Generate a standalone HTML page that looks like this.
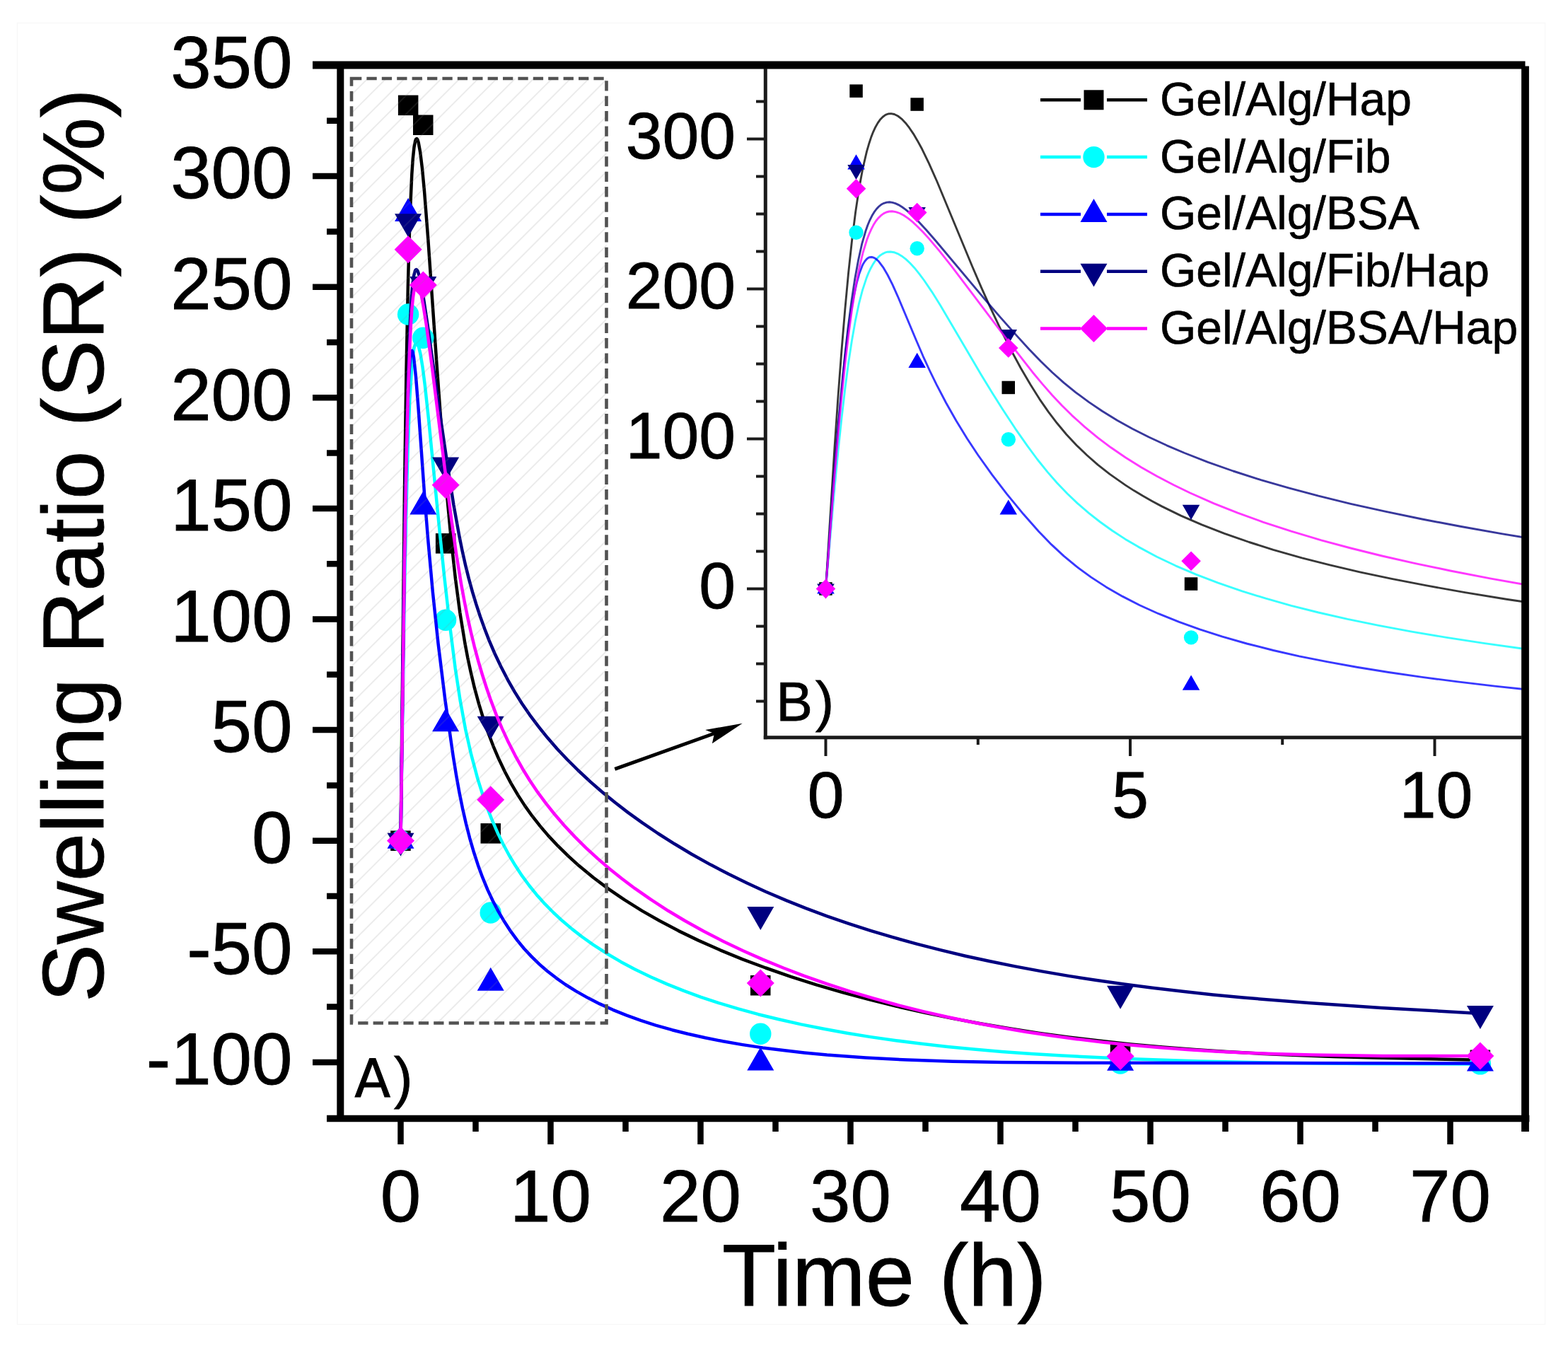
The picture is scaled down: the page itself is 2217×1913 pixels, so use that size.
<!DOCTYPE html><html><head><meta charset="utf-8"><title>Swelling Ratio</title><style>html,body{margin:0;padding:0;background:#fff;overflow:hidden}svg{display:block}</style></head><body>
<svg width="2217" height="1913" viewBox="0 0 2217 1913">
<defs>
<clipPath id="cm"><rect x="481" y="92" width="1676" height="1489"/></clipPath>
<clipPath id="ci"><rect x="1082" y="92" width="1075" height="951"/></clipPath>
<clipPath id="ch"><rect x="497" y="111" width="360.5" height="1335.5"/></clipPath>
</defs>
<rect width="2217" height="1913" fill="#fff"/>
<rect x="24.5" y="32.5" width="2160" height="1840" fill="none" stroke="#f8f8f8" stroke-width="1.5"/>
<g clip-path="url(#cm)">
<path d="M566.5,1188.7L572,691.3L574.4,528.8L576.9,402.1L579.4,311.2L582.3,246.3L583.8,224.2L585.5,208L587.3,198.8L588.2,196.7L589.2,196.1L590.4,197.4L591.6,201.1L594.2,215.4L597,238.2L600,270.3L605.2,337.1L617.5,515L623.9,602.1L631,689.6L637.8,762.6L644,818.8L650.3,866.1L657.4,909.5L661.2,929.6L665.4,949.2L670.8,972.2L676.9,994.6L683.5,1016.4L690.2,1035.9L697.4,1054.8L705.3,1073.3L713.9,1091.3L722.3,1107.1L732.3,1124.1L742,1139.1L752.4,1153.7L763.6,1167.9L775.3,1181.6L789,1196.2L803.5,1210.4L818.6,1224.1L838.9,1240.8L860.4,1256.9L882.8,1272.2L907.9,1287.9L932.3,1301.8L959.4,1316.1L987.4,1329.6L1018.3,1343.3L1050,1356.3L1082.6,1368.5L1118,1380.8L1154.2,1392.3L1191.1,1403.1L1228.6,1413.2L1266.7,1422.6L1307.6,1431.8L1346.7,1439.9L1386.1,1447.3L1425.9,1454L1468.3,1460.6L1510.8,1466.4L1553.6,1471.6L1598.7,1476.4L1643.8,1480.5L1689,1484.1L1734.1,1487.1L1781.6,1489.7L1833.9,1492.1L1886.2,1494L1943.2,1495.6L2092.9,1498.8" fill="none" stroke="#000000" stroke-width="4.5" stroke-opacity="1" stroke-linejoin="round"/>
<rect x="552.2" y="1174.5" width="28.5" height="28.5" fill="#000000"/>
<rect x="562.9" y="134.6" width="28.5" height="28.5" fill="#000000"/>
<rect x="584" y="162.5" width="28.5" height="28.5" fill="#000000"/>
<rect x="615.9" y="754.1" width="28.5" height="28.5" fill="#000000"/>
<rect x="679.5" y="1164.1" width="28.5" height="28.5" fill="#000000"/>
<rect x="1061" y="1379" width="28.5" height="28.5" fill="#000000"/>
<rect x="1569.8" y="1475.1" width="28.5" height="28.5" fill="#000000"/>
<rect x="2078.6" y="1484.5" width="28.5" height="28.5" fill="#000000"/>
<path d="M566.5,1188.7L572,833L574.4,717.2L576.8,629.3L579.3,564.7L582.2,519L583.7,503.6L585.3,492.9L587.1,486.5L588,485.1L589,484.7L590.2,485.8L591.6,488.9L594.4,500.1L597.4,518.3L600.8,544.6L606.4,596.6L620.6,741.3L628.1,814.3L636.7,889.8L643.7,944.8L650.6,990L658.1,1030.9L666.3,1067.2L675.3,1100.9L681.8,1121.7L688.3,1140.4L695.4,1158.6L703.1,1176.4L711.5,1193.7L719.7,1209L728.6,1223.8L738,1238.2L748.2,1252L759,1265.4L770.5,1278.2L782.7,1290.5L795.5,1302.3L808.9,1313.6L822.9,1324.5L838.9,1335.9L857.2,1347.7L877.9,1359.9L897.7,1370.4L920,1381.2L943,1391.4L966.8,1400.9L991.2,1409.8L1016.3,1418.1L1044,1426.4L1072.3,1434.2L1101.3,1441.3L1132.8,1448.4L1165,1454.8L1197.7,1460.7L1230.9,1466.1L1266.7,1471.2L1303,1475.8L1339.8,1479.9L1376.8,1483.5L1416.5,1486.9L1458.8,1490L1501.4,1492.6L1593.9,1497.1L1696.1,1500.5L1805.4,1502.7L1926.6,1503.9L2092.9,1504.4" fill="none" stroke="#00ffff" stroke-width="4.5" stroke-opacity="1" stroke-linejoin="round"/>
<circle cx="566.5" cy="1188.7" r="15.2" fill="#00ffff"/>
<circle cx="577.1" cy="444.5" r="15.2" fill="#00ffff"/>
<circle cx="598.3" cy="477.7" r="15.2" fill="#00ffff"/>
<circle cx="630.1" cy="876.8" r="15.2" fill="#00ffff"/>
<circle cx="693.7" cy="1290.5" r="15.2" fill="#00ffff"/>
<circle cx="1075.3" cy="1461.8" r="15.2" fill="#00ffff"/>
<circle cx="1584.1" cy="1503.5" r="15.2" fill="#00ffff"/>
<circle cx="2092.9" cy="1504.4" r="15.2" fill="#00ffff"/>
<path d="M566.5,1188.7L570.9,846.7L572.7,733.2L574.5,644.8L576.3,576.2L578.2,530.1L580.2,504.2L581.3,497.6L581.8,496.2L582.4,495.8L583,496.5L583.6,498.2L585,505.2L588,532.7L591.6,578.2L600.4,703.1L605.1,762.1L611.9,837.6L619.5,909.5L629.5,990.6L640.7,1069L645.1,1096.2L649.4,1120.1L653.9,1142.4L658.9,1164.5L664.1,1184.8L669.9,1204.8L675.8,1222.9L682.3,1240.7L689.5,1258.1L696.7,1273.5L704.6,1288.6L713.1,1303.1L722.3,1317.2L731.3,1329.4L741,1341.2L751.4,1352.4L762.4,1363.1L774.1,1373.2L786.5,1382.8L799.4,1392L814.4,1401.4L831.6,1411.1L848,1419.4L866.7,1427.8L886.1,1435.7L906.2,1442.9L927,1449.6L950.3,1456.2L972.4,1461.8L997,1467.3L1022.2,1472.3L1050,1477.1L1078.5,1481.4L1107.5,1485.1L1137.1,1488.4L1169.3,1491.5L1224.2,1495.5L1282.6,1498.6L1346.7,1500.7L1416.5,1502.1L1532.2,1502.8L2092.9,1503.5" fill="none" stroke="#0000ff" stroke-width="4.5" stroke-opacity="1" stroke-linejoin="round"/>
<path d="M566.5,1166.8L585.5,1199.7L547.5,1199.7Z" fill="#0000ff"/>
<path d="M577.1,280.1L596.1,313L558.1,313Z" fill="#0000ff"/>
<path d="M598.3,694.5L617.3,727.4L579.3,727.4Z" fill="#0000ff"/>
<path d="M630.1,1001.4L649.1,1034.3L611.1,1034.3Z" fill="#0000ff"/>
<path d="M693.7,1367.8L712.7,1400.7L674.7,1400.7Z" fill="#0000ff"/>
<path d="M1075.3,1480.6L1094.3,1513.5L1056.3,1513.5Z" fill="#0000ff"/>
<path d="M1584.1,1480.9L1603.1,1513.8L1565.1,1513.8Z" fill="#0000ff"/>
<path d="M2092.9,1481.5L2111.9,1514.4L2073.9,1514.4Z" fill="#0000ff"/>
<path d="M566.5,1188.7L572,774.9L574.3,642.8L576.7,540.9L579.1,468.8L581.8,418.8L583.4,401.8L585,390.2L586.8,383.2L587.7,381.5L588.7,381.1L589.7,381.9L590.8,383.7L593,390.9L595.6,403L598.6,420.2L604.7,460.7L622,585.1L632.3,655.2L641.4,713.8L649.4,758.2L653.5,778.4L658.1,798.9L662.8,817.9L668,836.9L673.3,854.4L679,871.8L685.3,889.3L691.4,905.1L699.5,924L708.4,942.7L718,961.3L727.6,978.1L738,994.7L749.2,1011.1L761.3,1027.2L774.1,1043.1L787.7,1058.7L802.1,1074L817.2,1089L834.5,1105.1L851,1119.5L869.8,1134.8L887.7,1148.6L907.9,1163.1L930.5,1178.5L953.9,1193.3L978,1207.7L1004.7,1222.6L1030.1,1235.8L1056.1,1248.5L1082.6,1260.7L1111.7,1273.1L1139.2,1284.1L1169.3,1295.3L1199.9,1305.8L1230.9,1315.8L1262.2,1325.2L1296.2,1334.6L1330.5,1343.4L1365.2,1351.7L1400.1,1359.3L1435.3,1366.4L1473,1373.4L1510.8,1379.9L1548.8,1385.8L1589.2,1391.6L1629.6,1396.8L1672.4,1401.8L1715.1,1406.4L1757.9,1410.5L1850.5,1418.1L1952.7,1424.9L2092.9,1433" fill="none" stroke="#000080" stroke-width="4.5" stroke-opacity="1" stroke-linejoin="round"/>
<path d="M566.5,1210.6L585.5,1177.7L547.5,1177.7Z" fill="#000080"/>
<path d="M577.1,335.2L596.1,302.3L558.1,302.3Z" fill="#000080"/>
<path d="M598.3,423.9L617.3,391L579.3,391Z" fill="#000080"/>
<path d="M630.1,679.5L649.1,646.5L611.1,646.5Z" fill="#000080"/>
<path d="M693.7,1045.6L712.7,1012.7L674.7,1012.7Z" fill="#000080"/>
<path d="M1075.3,1314.9L1094.3,1282L1056.3,1282Z" fill="#000080"/>
<path d="M1584.1,1426.7L1603.1,1393.8L1565.1,1393.8Z" fill="#000080"/>
<path d="M2092.9,1454.9L2111.9,1422L2073.9,1422Z" fill="#000080"/>
<path d="M566.5,1188.7L572.1,786.1L574.5,656.8L576.9,557.1L579.5,486.6L580.9,459.3L582.3,437.6L584,420.5L585.7,408.9L587.6,402.1L588.6,400.6L589.6,400.3L590.9,401.3L592.3,404.2L595.2,414.7L598.4,431.8L602.6,458L610.3,514.5L628.7,661.1L638.5,736.1L645.3,784.2L652.2,826.4L656.7,850.6L661.2,873L665.8,893.7L670.8,914.3L676.3,934.9L681.8,953.5L687.7,972L693.4,988.6L701.6,1010.4L709.9,1030.1L718.9,1049.6L728.6,1068.6L739,1087.2L749.2,1103.8L760.1,1119.9L771.7,1135.7L783.9,1151L798.1,1167.5L813,1183.4L828.6,1198.9L845,1213.9L861.9,1228.5L879.5,1242.5L897.7,1256.2L920,1271.7L944.8,1287.8L968.6,1302L995.1,1316.7L1022.2,1330.7L1050,1344L1078.5,1356.6L1107.5,1368.5L1137.1,1379.8L1169.3,1391.2L1202.1,1401.8L1235.3,1411.7L1269,1421L1305.3,1430.1L1339.8,1438L1376.8,1445.7L1411.8,1452.3L1449.4,1458.7L1484.8,1464L1522.7,1469.2L1560.7,1473.7L1601.1,1477.8L1641.5,1481.3L1681.9,1484.3L1722.2,1486.7L1765,1488.7L1807.8,1490.3L1855.3,1491.5L1955.1,1492.9L2092.9,1493.1" fill="none" stroke="#ff00ff" stroke-width="4.5" stroke-opacity="1" stroke-linejoin="round"/>
<path d="M566.5,1169.2L586,1188.7L566.5,1208.2L547,1188.7Z" fill="#ff00ff"/>
<path d="M577.1,333.3L596.6,352.8L577.1,372.3L557.6,352.8Z" fill="#ff00ff"/>
<path d="M598.3,383.4L617.8,402.9L598.3,422.4L578.8,402.9Z" fill="#ff00ff"/>
<path d="M630.1,666.2L649.6,685.7L630.1,705.2L610.6,685.7Z" fill="#ff00ff"/>
<path d="M693.7,1111.3L713.2,1130.8L693.7,1150.3L674.2,1130.8Z" fill="#ff00ff"/>
<path d="M1075.3,1370.6L1094.8,1390.1L1075.3,1409.6L1055.8,1390.1Z" fill="#ff00ff"/>
<path d="M1584.1,1473.9L1603.6,1493.4L1584.1,1512.9L1564.6,1493.4Z" fill="#ff00ff"/>
<path d="M2092.9,1473.6L2112.4,1493.1L2092.9,1512.6L2073.4,1493.1Z" fill="#ff00ff"/>
</g>
<path clip-path="url(#ch)" d="M-867.7,1446.5L467.8,111M-841.6,1446.5L493.9,111M-815.5,1446.5L520,111M-789.5,1446.5L546,111M-763.4,1446.5L572.1,111M-737.3,1446.5L598.2,111M-711.2,1446.5L624.3,111M-685.2,1446.5L650.3,111M-659.1,1446.5L676.4,111M-633,1446.5L702.5,111M-607,1446.5L728.5,111M-580.9,1446.5L754.6,111M-554.8,1446.5L780.7,111M-528.8,1446.5L806.8,111M-502.7,1446.5L832.8,111M-476.6,1446.5L858.9,111M-450.5,1446.5L885,111M-424.5,1446.5L911,111M-398.4,1446.5L937.1,111M-372.3,1446.5L963.2,111M-346.3,1446.5L989.2,111M-320.2,1446.5L1015.3,111M-294.1,1446.5L1041.4,111M-268,1446.5L1067.5,111M-242,1446.5L1093.5,111M-215.9,1446.5L1119.6,111M-189.8,1446.5L1145.7,111M-163.8,1446.5L1171.7,111M-137.7,1446.5L1197.8,111M-111.6,1446.5L1223.9,111M-85.6,1446.5L1249.9,111M-59.5,1446.5L1276,111M-33.4,1446.5L1302.1,111M-7.4,1446.5L1328.1,111M18.7,1446.5L1354.2,111M44.8,1446.5L1380.3,111M70.9,1446.5L1406.4,111M96.9,1446.5L1432.4,111M123,1446.5L1458.5,111M149.1,1446.5L1484.6,111M175.1,1446.5L1510.6,111M201.2,1446.5L1536.7,111M227.3,1446.5L1562.8,111M253.3,1446.5L1588.8,111M279.4,1446.5L1614.9,111M305.5,1446.5L1641,111M331.6,1446.5L1667.1,111M357.6,1446.5L1693.1,111M383.7,1446.5L1719.2,111M409.8,1446.5L1745.3,111M435.8,1446.5L1771.3,111M461.9,1446.5L1797.4,111M488,1446.5L1823.5,111M514,1446.5L1849.5,111M540.1,1446.5L1875.6,111M566.2,1446.5L1901.7,111M592.3,1446.5L1927.8,111M618.3,1446.5L1953.8,111M644.4,1446.5L1979.9,111M670.5,1446.5L2006,111M696.5,1446.5L2032,111M722.6,1446.5L2058.1,111M748.7,1446.5L2084.2,111M774.8,1446.5L2110.2,111M800.8,1446.5L2136.3,111M826.9,1446.5L2162.4,111M853,1446.5L2188.5,111M879,1446.5L2214.5,111" stroke="#8a8a8a" stroke-opacity="0.17" stroke-width="1.9" fill="none"/>
<rect x="497" y="111" width="360.5" height="1335.5" fill="none" stroke="#525252" stroke-width="4.6" stroke-dasharray="14.3 7.1"/>
<g clip-path="url(#ci)">
<path d="M1167.5,832.5L1180.1,631.6L1185,560.7L1189.9,495.8L1194.8,437.5L1199.6,385.8L1204.5,340.7L1209.6,300.1L1214.7,266.1L1219.8,238.5L1225.5,214.1L1228.5,203.8L1231.5,194.6L1234.6,186.6L1237.8,179.7L1241.1,173.9L1244.8,168.7L1248.2,165.2L1252.1,162.4L1255.7,161L1259.8,160.6L1264.4,161.5L1269.5,164L1274.8,168.1L1280.2,173.7L1285.7,180.7L1291.4,189.1L1297.2,198.9L1303.7,210.8L1313.4,230.9L1324.6,256L1374.6,376.5L1387.9,407.4L1400.5,435.4L1415.4,466.8L1429.4,494.7L1443.3,520.5L1457.1,544.1L1469.7,564.1L1482.2,582.1L1494.5,598.3L1507.8,614.2L1522.3,629.7L1536.7,643.5L1552.2,657.1L1569.1,670.4L1591.2,685.9L1603.2,693.6L1615.7,701.1L1628.8,708.5L1642.6,715.9L1669.7,729.1L1699.2,741.9L1731.3,754.4L1766.1,766.5L1800.3,777.3L1840.8,788.8L1880.3,798.9L1922.7,808.8L1967.8,818.4L2015.6,827.7L2071.2,837.6L2129.9,847.2L2191.5,856.4L2274,867.8L2360.9,878.7L2452,889L2554.1,899.6L2653.1,909.1L2763.2,918.7L2877,927.9L3002.3,937.2L3131.3,945.9L3263.6,954.2L3407.4,962.5L3554.4,970.3L3704.2,977.6L3856.6,984.5L4011.3,990.8L4177.4,997.1L4336.1,1002.5L4496.3,1007.5L4657.8,1012.1L4829.9,1016.5L5002.8,1020.5L5176.3,1024L5359.6,1027.2L5542.9,1030L5909.6,1034.5L6314.9,1037.9L6758.8,1040.3L7366.7,1042.4" fill="none" stroke="#000000" stroke-width="2.9" stroke-opacity="0.78" stroke-linejoin="round"/>
<rect x="1158.2" y="823.2" width="18.5" height="18.5" fill="#000000"/>
<rect x="1201.3" y="119.4" width="18.5" height="18.5" fill="#000000"/>
<rect x="1287.4" y="138.3" width="18.5" height="18.5" fill="#000000"/>
<rect x="1416.5" y="538.7" width="18.5" height="18.5" fill="#000000"/>
<rect x="1674.8" y="816.3" width="18.5" height="18.5" fill="#000000"/>
<rect x="3224.6" y="961.7" width="18.5" height="18.5" fill="#000000"/>
<rect x="5291" y="1026.8" width="18.5" height="18.5" fill="#000000"/>
<rect x="7357.4" y="1033.1" width="18.5" height="18.5" fill="#000000"/>
<path d="M1167.5,832.5L1180.1,688.8L1185,638L1189.9,591.8L1194.8,550.1L1199.6,513.3L1204.5,481.3L1209.3,453.9L1214.4,429.7L1219.5,410.1L1225.2,392.9L1228.1,385.6L1231.2,379.2L1234.3,373.6L1237.5,368.8L1240.7,364.8L1244,361.5L1247.5,359.1L1251.3,357.2L1254.9,356.2L1259,356L1264,356.7L1269.5,358.8L1274.8,361.9L1280.7,366.4L1286.7,372L1292.9,378.7L1299.7,387.1L1306.7,396.5L1317.6,412.6L1329.6,431.7L1387.2,529.7L1402.8,555.3L1417.8,579.1L1435.4,605.8L1452.4,630.2L1466.7,649.5L1481.1,667.4L1494.5,682.8L1509.1,698L1523.7,711.9L1539.7,725.7L1555.5,738L1572.6,750.3L1591.2,762.4L1609.4,773.1L1635.7,787.2L1662.1,799.8L1690.9,812.1L1722.3,824.2L1756.3,835.9L1789.8,846.2L1825.7,856.3L1864.2,866L1905.4,875.4L1949.4,884.4L1996.2,893.1L2045.5,901.4L2097.5,909.4L2151.9,917L2208.8,924.4L2274,932.1L2348.2,940.1L2432.2,948.4L2512.7,955.5L2603.1,962.8L2696.7,969.7L2793.2,976.1L2892.5,982.1L2994.4,987.8L3106.8,993.4L3221.9,998.7L3339.3,1003.5L3467.6,1008.3L3598.2,1012.6L3730.9,1016.6L3865.6,1020.2L4011.3,1023.7L4307.9,1029.6L4619.7,1034.3L4964.3,1038.2L5340.3,1041.2L5755.2,1043.5L6199.1,1045L6691.2,1045.8L7366.7,1046.2" fill="none" stroke="#00ffff" stroke-width="2.9" stroke-opacity="0.78" stroke-linejoin="round"/>
<circle cx="1167.5" cy="832.5" r="10.2" fill="#00ffff"/>
<circle cx="1210.5" cy="328.8" r="10.2" fill="#00ffff"/>
<circle cx="1296.7" cy="351.3" r="10.2" fill="#00ffff"/>
<circle cx="1425.8" cy="621.3" r="10.2" fill="#00ffff"/>
<circle cx="1684.1" cy="901.4" r="10.2" fill="#00ffff"/>
<circle cx="3233.9" cy="1017.4" r="10.2" fill="#00ffff"/>
<circle cx="5300.3" cy="1045.6" r="10.2" fill="#00ffff"/>
<circle cx="7366.7" cy="1046.2" r="10.2" fill="#00ffff"/>
<path d="M1167.5,832.5L1177.6,694.2L1185.3,601L1192.7,524.2L1196.2,492.9L1199.9,464.3L1203.7,438.8L1207.4,417.9L1211.3,400.2L1215,386.7L1218.9,376.4L1220.7,372.7L1222.9,369.2L1225.2,366.5L1227.5,364.7L1229.8,363.7L1232.2,363.5L1234.6,364L1237.1,365.1L1239.6,367L1242.6,369.8L1248.6,377.8L1254.9,388.5L1261.9,402.3L1269.5,419.3L1295.3,480.8L1305.2,503.8L1314.5,524L1324.1,543.7L1337.6,569.5L1351.9,594.8L1367.2,619.8L1382.9,643.5L1402.8,671.4L1423.5,698.4L1446.9,726.8L1468.7,751.5L1486.6,769.9L1504.1,786.1L1522.3,801.2L1542.7,816.1L1563.9,829.9L1587.4,843.4L1611.5,855.7L1638,867.7L1667.2,879.4L1696.4,889.9L1728.3,900.1L1762.8,910L1800.3,919.5L1837,927.8L1876.3,935.7L1918.3,943.3L1963.2,950.5L2010.7,957.4L2060.9,963.9L2113.6,970.1L2174.4,976.5L2244,983L2310.7,988.6L2386.5,994.4L2465.4,999.7L2547.1,1004.6L2631.6,1009.1L2726.1,1013.6L2815.9,1017.4L2915.8,1021.1L3018.2,1024.5L3131.3,1027.7L3364.8,1033.2L3615.8,1037.4L3838.5,1040.2L4075.6,1042.2L4336.1,1043.7L4619.7,1044.6L5089.5,1045.1L7366.7,1045.6" fill="none" stroke="#0000ff" stroke-width="2.9" stroke-opacity="0.78" stroke-linejoin="round"/>
<path d="M1167.5,818.4L1179.8,839.6L1155.2,839.6Z" fill="#0000ff"/>
<path d="M1210.5,218.2L1222.8,239.4L1198.3,239.4Z" fill="#0000ff"/>
<path d="M1296.7,498.7L1308.9,519.9L1284.4,519.9Z" fill="#0000ff"/>
<path d="M1425.8,706.4L1438,727.6L1413.5,727.6Z" fill="#0000ff"/>
<path d="M1684.1,954.5L1696.3,975.7L1671.8,975.7Z" fill="#0000ff"/>
<path d="M3233.9,1030.8L3246.1,1052L3221.6,1052Z" fill="#0000ff"/>
<path d="M5300.3,1031L5312.5,1052.2L5288,1052.2Z" fill="#0000ff"/>
<path d="M7366.7,1031.4L7378.9,1052.6L7354.4,1052.6Z" fill="#0000ff"/>
<path d="M1167.5,832.5L1179.9,666.2L1185,604.1L1189.7,552.4L1194.5,503.8L1199.1,463L1204,425.7L1208.8,394L1213.6,367.7L1218.6,345.2L1223.9,326.8L1226.8,318.5L1229.8,311.3L1232.9,305.1L1236,299.9L1239.3,295.5L1242.6,292L1245.9,289.3L1249.8,287.3L1253.7,286.1L1257.7,285.8L1261.9,286.4L1266.1,287.6L1270.4,289.6L1275.2,292.5L1280.2,296.1L1285.7,300.7L1297.7,312.3L1309.3,324.8L1322.4,339.8L1393,423.9L1414.6,448.9L1434.6,471.4L1455.2,493.9L1471.7,511L1487.7,526.5L1504.1,541.1L1521,554.8L1539.7,568.6L1558.8,581.5L1579.9,594.4L1601.1,606.2L1624.4,618L1649.8,629.8L1674.9,640.5L1707.7,653.3L1743.6,666L1782.9,678.6L1822,689.9L1864.2,701.2L1909.7,712.3L1958.5,723.2L2010.7,734L2066,744.5L2124.4,754.9L2185.7,765L2255.9,775.9L2323.1,785.7L2399.5,796L2472.1,805.3L2554.1,815.2L2645.9,825.6L2740.9,835.6L2838.7,845.4L2947,855.4L3050.3,864.4L3155.8,873L3263.6,881.2L3381.8,889.7L3493.5,897.1L3615.8,904.6L3739.8,911.8L3865.6,918.5L3993,924.9L4131,931.3L4270.5,937.2L4411.3,942.8L4695.9,952.8L5002.8,961.9L5321,969.8L5658.7,976.8L6006.1,982.6L6382.4,987.8L6797.4,992.4L7366.7,997.9" fill="none" stroke="#000080" stroke-width="2.9" stroke-opacity="0.78" stroke-linejoin="round"/>
<path d="M1167.5,846.6L1179.8,825.4L1155.2,825.4Z" fill="#000080"/>
<path d="M1210.5,254.1L1222.8,232.9L1198.3,232.9Z" fill="#000080"/>
<path d="M1296.7,314.1L1308.9,292.9L1284.4,292.9Z" fill="#000080"/>
<path d="M1425.8,487.1L1438,465.9L1413.5,465.9Z" fill="#000080"/>
<path d="M1684.1,734.9L1696.3,713.7L1671.8,713.7Z" fill="#000080"/>
<path d="M3233.9,917.2L3246.1,896L3221.6,896Z" fill="#000080"/>
<path d="M5300.3,992.9L5312.5,971.7L5288,971.7Z" fill="#000080"/>
<path d="M7366.7,1012L7378.9,990.8L7354.4,990.8Z" fill="#000080"/>
<path d="M1167.5,832.5L1180.1,671.1L1185.3,611.7L1190.1,560L1195,513.5L1199.9,472.5L1204.7,436.9L1209.9,405L1215,378.5L1220.1,357.3L1225.8,338.8L1228.8,331L1231.9,324.1L1235,318.1L1238.5,312.5L1241.8,308.4L1245.6,304.7L1249.4,301.9L1253.3,300L1257.3,299L1261.4,298.8L1266.5,299.6L1272.1,301.5L1277.9,304.5L1283.9,308.6L1290.5,313.9L1297.2,320.2L1305.2,328.3L1313.9,337.9L1328.5,355.1L1345.2,376.2L1420.2,475.4L1459.9,526.2L1473.8,542.9L1487.7,558.7L1501.6,573.5L1515.6,587.3L1533.7,603.6L1552.2,618.8L1570.8,632.8L1591.2,646.8L1613.6,660.7L1635.7,673.3L1659.6,685.8L1682.8,697L1716.4,711.8L1749.9,725.2L1786.3,738.3L1825.7,751.2L1868.2,763.8L1909.7,775L1954,786L2001,796.6L2050.6,807L2108.2,818.1L2168.7,828.9L2232.2,839.4L2298.4,849.6L2367.3,859.4L2438.8,868.9L2512.7,878.2L2603.1,888.7L2704,899.6L2800.7,909.2L2908,919.1L3018.2,928.6L3131.3,937.6L3246.9,946.1L3364.8,954.2L3484.9,961.9L3615.8,969.5L3748.8,976.7L3883.7,983.5L4020.5,989.7L4168.1,995.9L4307.9,1001.2L4458.5,1006.5L4600.6,1010.9L4753.3,1015.2L4897,1018.9L5050.9,1022.3L5205.2,1025.4L5369.2,1028.2L5697.3,1032.6L6035.1,1035.6L6401.7,1037.5L6807,1038.4L7366.7,1038.6" fill="none" stroke="#ff00ff" stroke-width="2.9" stroke-opacity="0.78" stroke-linejoin="round"/>
<path d="M1167.5,818.7L1181.3,832.5L1167.5,846.3L1153.7,832.5Z" fill="#ff00ff"/>
<path d="M1210.5,252.9L1224.3,266.7L1210.5,280.5L1196.8,266.7Z" fill="#ff00ff"/>
<path d="M1296.7,286.8L1310.5,300.6L1296.7,314.4L1282.9,300.6Z" fill="#ff00ff"/>
<path d="M1425.8,478.2L1439.6,492L1425.8,505.8L1412,492Z" fill="#ff00ff"/>
<path d="M1684.1,779.5L1697.9,793.3L1684.1,807.1L1670.3,793.3Z" fill="#ff00ff"/>
<path d="M3233.9,955L3247.7,968.8L3233.9,982.6L3220.1,968.8Z" fill="#ff00ff"/>
<path d="M5300.3,1025L5314.1,1038.8L5300.3,1052.6L5286.5,1038.8Z" fill="#ff00ff"/>
<path d="M7366.7,1024.8L7380.5,1038.6L7366.7,1052.4L7352.9,1038.6Z" fill="#ff00ff"/>
</g>
<g stroke="#000" stroke-width="9.5" fill="none" stroke-linecap="butt">
<path d="M481.3,88V1586" stroke-width="10"/>
<path d="M2156.5,93.5V1600" stroke-width="10.8"/>
<path d="M442,92H2156.5" stroke-width="11"/>
<path d="M462,1581.5H2162.4" stroke-width="9.5"/>
<path d="M442,1501.9H481M442,1345.3H481M442,1188.7H481M442,1032.1H481M442,875.5H481M442,718.9H481M442,562.3H481M442,405.7H481M442,249.1H481M462,1423.6H481M462,1267H481M462,1110.4H481M462,953.8H481M462,797.2H481M462,640.6H481M462,484H481M462,327.4H481M462,170.8H481M566.5,1581V1618M778.5,1581V1618M990.5,1581V1618M1202.5,1581V1618M1414.5,1581V1618M1626.5,1581V1618M1838.5,1581V1618M2050.5,1581V1618M672.5,1581V1600M884.5,1581V1600M1096.5,1581V1600M1308.5,1581V1600M1520.5,1581V1600M1732.5,1581V1600M1944.5,1581V1600" stroke-width="8.5"/>
</g>
<g stroke="#1a1a1a" stroke-width="5" fill="none">
<path d="M1082.3,97V1045.2"/>
<path d="M1079.8,1042.7H2152"/>
<path d="M1056,832.5H1082M1056,620.5H1082M1056,408.5H1082M1056,196.5H1082M1069,991.5H1082M1069,938.5H1082M1069,885.5H1082M1069,779.5H1082M1069,726.5H1082M1069,673.5H1082M1069,567.5H1082M1069,514.5H1082M1069,461.5H1082M1069,355.5H1082M1069,302.5H1082M1069,249.5H1082M1069,143.5H1082M1167.5,1042V1069M1598,1042V1069M2028.5,1042V1069M1382.8,1042V1053M1813.2,1042V1053" stroke-width="4"/>
</g>
<g font-family="Liberation Sans, Arial, sans-serif" fill="#000" stroke="#000" stroke-width="0.9">
<text x="413.5" y="1533.2" font-size="103.3" text-anchor="end">-100</text>
<text x="413.5" y="1376.6" font-size="103.3" text-anchor="end">-50</text>
<text x="413.5" y="1220" font-size="103.3" text-anchor="end">0</text>
<text x="413.5" y="1063.4" font-size="103.3" text-anchor="end">50</text>
<text x="413.5" y="906.8" font-size="103.3" text-anchor="end">100</text>
<text x="413.5" y="750.2" font-size="103.3" text-anchor="end">150</text>
<text x="413.5" y="593.6" font-size="103.3" text-anchor="end">200</text>
<text x="413.5" y="437" font-size="103.3" text-anchor="end">250</text>
<text x="413.5" y="280.4" font-size="103.3" text-anchor="end">300</text>
<text x="413.5" y="123.8" font-size="103.3" text-anchor="end">350</text>
<text x="566.5" y="1727.3" font-size="103.3" text-anchor="middle">0</text>
<text x="778.5" y="1727.3" font-size="103.3" text-anchor="middle">10</text>
<text x="990.5" y="1727.3" font-size="103.3" text-anchor="middle">20</text>
<text x="1202.5" y="1727.3" font-size="103.3" text-anchor="middle">30</text>
<text x="1414.5" y="1727.3" font-size="103.3" text-anchor="middle">40</text>
<text x="1626.5" y="1727.3" font-size="103.3" text-anchor="middle">50</text>
<text x="1838.5" y="1727.3" font-size="103.3" text-anchor="middle">60</text>
<text x="2050.5" y="1727.3" font-size="103.3" text-anchor="middle">70</text>
<text x="1040" y="859.5" font-size="93" text-anchor="end">0</text>
<text x="1040" y="647.5" font-size="93" text-anchor="end">100</text>
<text x="1040" y="435.5" font-size="93" text-anchor="end">200</text>
<text x="1040" y="223.5" font-size="93" text-anchor="end">300</text>
<text x="1167.5" y="1156.3" font-size="93" text-anchor="middle">0</text>
<text x="1598" y="1156.3" font-size="93" text-anchor="middle">5</text>
<text x="2030.5" y="1156.3" font-size="93" text-anchor="middle">10</text>
<text x="1021" y="1846.2" font-size="124.5">Time (h)</text>
<text transform="translate(146,1417) rotate(-90)" font-size="123">Swelling Ratio (SR) (%)</text>
<text x="501.3" y="1551.4" font-size="74.5" font-family="DejaVu Sans, sans-serif">A</text>
<text x="557" y="1551.4" font-size="79">)</text>
<text x="1097.4" y="1018.9" font-size="77">B</text>
<text x="1153" y="1018.9" font-size="78">)</text>
</g>
<path d="M869.3,1087.4L1010,1037" stroke="#000" stroke-width="5" fill="none"/>
<path d="M1049.7,1022.8L997.2,1031.9L1010,1037L1006.9,1051.2Z" fill="#000"/>
<path d="M1471,141.3H1528M1565,141.3H1622" stroke="#000000" stroke-width="4.5"/>
<rect x="1532.5" y="127.3" width="28" height="28" fill="#000000"/>
<text x="1640" y="162.8" font-family="Liberation Sans, Arial, sans-serif" font-size="66" fill="#000" stroke="#000" stroke-width="0.6">Gel/Alg/Hap</text>
<path d="M1471,222.1H1528M1565,222.1H1622" stroke="#00ffff" stroke-width="4.5"/>
<circle cx="1546.5" cy="222.1" r="15.2" fill="#00ffff"/>
<text x="1640" y="243.6" font-family="Liberation Sans, Arial, sans-serif" font-size="66" fill="#000" stroke="#000" stroke-width="0.6">Gel/Alg/Fib</text>
<path d="M1471,302.9H1528M1565,302.9H1622" stroke="#0000ff" stroke-width="4.5"/>
<path d="M1546.5,281L1565.5,313.9L1527.5,313.9Z" fill="#0000ff"/>
<text x="1640" y="324.4" font-family="Liberation Sans, Arial, sans-serif" font-size="66" fill="#000" stroke="#000" stroke-width="0.6">Gel/Alg/BSA</text>
<path d="M1471,383.7H1528M1565,383.7H1622" stroke="#000080" stroke-width="4.5"/>
<path d="M1546.5,405.6L1565.5,372.7L1527.5,372.7Z" fill="#000080"/>
<text x="1640" y="405.2" font-family="Liberation Sans, Arial, sans-serif" font-size="66" fill="#000" stroke="#000" stroke-width="0.6">Gel/Alg/Fib/Hap</text>
<path d="M1471,464.5H1528M1565,464.5H1622" stroke="#ff00ff" stroke-width="4.5"/>
<path d="M1546.5,445L1566,464.5L1546.5,484L1527,464.5Z" fill="#ff00ff"/>
<text x="1640" y="486" font-family="Liberation Sans, Arial, sans-serif" font-size="66" fill="#000" stroke="#000" stroke-width="0.6">Gel/Alg/BSA/Hap</text>
</svg></body></html>
